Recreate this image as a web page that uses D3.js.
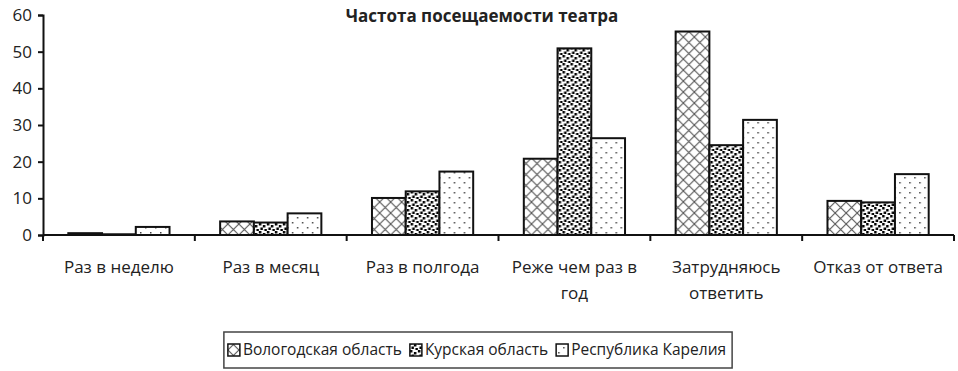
<!DOCTYPE html>
<html>
<head>
<meta charset="utf-8">
<script src="https://cdn.jsdelivr.net/npm/d3@7"></script>
<style>
  body { margin: 0; background: #fff; }
  text { font-family: "Open Sans", "Noto Sans", sans-serif; fill: #222; }
</style>
</head>
<body>
<svg id="chart" width="958" height="371"></svg>
<script>
// categories and series
var categories = ["Раз в неделю", "Раз в месяц", "Раз в полгода", "Реже чем раз в год", "Затрудняюсь ответить", "Отказ от ответа"]
var seriesNames = ["Вологодская область", "Курская область", "Республика Карелия"]
var vologda = [0.5, 3.7, 10.1, 20.8, 55.5, 9.3]
var kursk = [0.2, 3.4, 11.9, 50.9, 24.5, 8.9]
var karelia = [2.2, 5.9, 17.3, 26.4, 31.4, 16.6]
var yTicks = [0, 10, 20, 30, 40, 50, 60]
var title = "Частота посещаемости театра"

var series = [vologda, kursk, karelia]
var patterns = ["pat-cross", "pat-confetti", "pat-dots"]

var svg = d3.select("#chart")
var margin = {left: 43, top: 15, right: 4, bottom: 136},
    width = 958 - margin.left - margin.right,
    height = 371 - margin.top - margin.bottom

// patterns
var defs = svg.append("defs")
var cross = defs.append("pattern")
    .attr("id", "pat-cross")
    .attr("patternUnits", "userSpaceOnUse")
    .attr("width", 11).attr("height", 11)
cross.append("rect").attr("width", 11).attr("height", 11).attr("fill", "#fff")
cross.append("path")
    .attr("d", "M0,0L11,11M11,0L0,11")
    .attr("stroke", "#555").attr("stroke-width", 1.1)

var conf = defs.append("pattern")
    .attr("id", "pat-confetti")
    .attr("patternUnits", "userSpaceOnUse")
    .attr("width", 8).attr("height", 8)
conf.append("rect").attr("width", 8).attr("height", 8).attr("fill", "#fff")
conf.append("rect").attr("x", 0).attr("y", 0).attr("width", 2.5).attr("height", 2.5).attr("fill", "#000")
conf.append("rect").attr("x", 4).attr("y", 2).attr("width", 2.5).attr("height", 2.5).attr("fill", "#000")
conf.append("rect").attr("x", 1.5).attr("y", 4.5).attr("width", 2.5).attr("height", 2.5).attr("fill", "#000")
conf.append("rect").attr("x", 5.5).attr("y", 6).attr("width", 2.5).attr("height", 2).attr("fill", "#000")

var dots = defs.append("pattern")
    .attr("id", "pat-dots")
    .attr("patternUnits", "userSpaceOnUse")
    .attr("width", 10).attr("height", 10)
dots.append("rect").attr("width", 10).attr("height", 10).attr("fill", "#fff")
dots.append("rect").attr("x", 2).attr("y", 2).attr("width", 1.5).attr("height", 1.5).attr("fill", "#444")
dots.append("rect").attr("x", 7).attr("y", 7).attr("width", 1.5).attr("height", 1.5).attr("fill", "#444")

var g = svg.append("g")
    .attr("transform", "translate(" + margin.left + "," + margin.top + ")")

var x = d3.scaleBand()
    .domain(categories)
    .range([0, width])

var x1 = d3.scaleBand()
    .domain(d3.range(series.length))
    .range([0, x.bandwidth()])
    .paddingOuter(0.75)
    .paddingInner(0)

var y = d3.scaleLinear()
    .domain([0, 60])
    .range([height, 0])

// bars
var groups = g.selectAll(".cat")
    .data(categories)
    .enter().append("g")
    .attr("class", "cat")
    .attr("transform", function(d) { return "translate(" + x(d) + ",0)" })

groups.selectAll("rect")
    .data(function(d, i) { return series.map(function(s, j) { return {s: j, v: s[i]} }) })
    .enter().append("rect")
    .attr("x", function(d) { return x1(d.s) })
    .attr("y", function(d) { return y(d.v) })
    .attr("width", x1.bandwidth())
    .attr("height", function(d) { return height - y(d.v) })
    .attr("fill", function(d) { return "url(#" + patterns[d.s] + ")" })
    .attr("stroke", "#111")
    .attr("stroke-width", 2)

// y axis
var yAxis = g.append("g")
    .call(d3.axisLeft(y).tickValues(yTicks).tickSize(5).tickPadding(6))
yAxis.select(".domain").attr("stroke", "#111").attr("stroke-width", 2)
yAxis.selectAll(".tick line").attr("stroke", "#111").attr("stroke-width", 2)
yAxis.selectAll("text").style("font-size", "17px").attr("fill", "#222")

// x axis, tick marks at category boundaries
var xAxis = g.append("g")
    .attr("transform", "translate(0," + height + ")")
xAxis.append("line")
    .attr("x1", 0).attr("x2", width)
    .attr("stroke", "#111").attr("stroke-width", 2)
xAxis.selectAll(".xtick")
    .data(d3.range(categories.length + 1))
    .enter().append("line")
    .attr("x1", function(i) { return i * x.step() })
    .attr("x2", function(i) { return i * x.step() })
    .attr("y1", 0).attr("y2", 6)
    .attr("stroke", "#111").attr("stroke-width", 2)

// wrapped category labels
var labelLines = {
    "Реже чем раз в год": ["Реже чем раз в", "год"],
    "Затрудняюсь ответить": ["Затрудняюсь", "ответить"]
}
xAxis.selectAll(".xlabel")
    .data(categories)
    .enter().append("text")
    .attr("text-anchor", "middle")
    .attr("transform", function(d) { return "translate(" + (x(d) + x.bandwidth() / 2) + ",38)" })
    .style("font-size", "17px")
    .each(function(d) {
        var lines = labelLines[d] || [d]
        d3.select(this).selectAll("tspan")
            .data(lines)
            .enter().append("tspan")
            .attr("x", 0)
            .attr("dy", function(l, i) { return i ? 26 : 0 })
            .text(function(l) { return l })
    })

// title
svg.append("text")
    .attr("x", 482).attr("y", 22)
    .attr("text-anchor", "middle")
    .style("font-size", "17px")
    .style("font-weight", "bold")
    .text(title)

// legend, items laid out from measured text widths
var legend = svg.append("g")
var legendBox = legend.append("rect")
    .attr("height", 36)
    .attr("fill", "#fff").attr("stroke", "#444").attr("stroke-width", 1.5)

var item = legend.selectAll(".item")
    .data(seriesNames)
    .enter().append("g")
item.append("rect")
    .attr("x", 0).attr("y", -6)
    .attr("width", 12).attr("height", 12)
    .attr("fill", function(d, i) { return "url(#" + patterns[i] + ")" })
    .attr("stroke", "#111").attr("stroke-width", 1.5)
item.append("text")
    .attr("x", 15).attr("dy", "0.35em")
    .style("font-size", "15.5px")
    .text(function(d) { return d })

var pos = 4
item.each(function() {
    d3.select(this).attr("transform", "translate(" + pos + ",18)")
    pos += this.getBBox().width + 8
})
var legendW = pos - 2
legendBox.attr("width", legendW)
legend.attr("transform", "translate(" + (478 - legendW / 2) + ",332)")
</script>
</body>
</html>
